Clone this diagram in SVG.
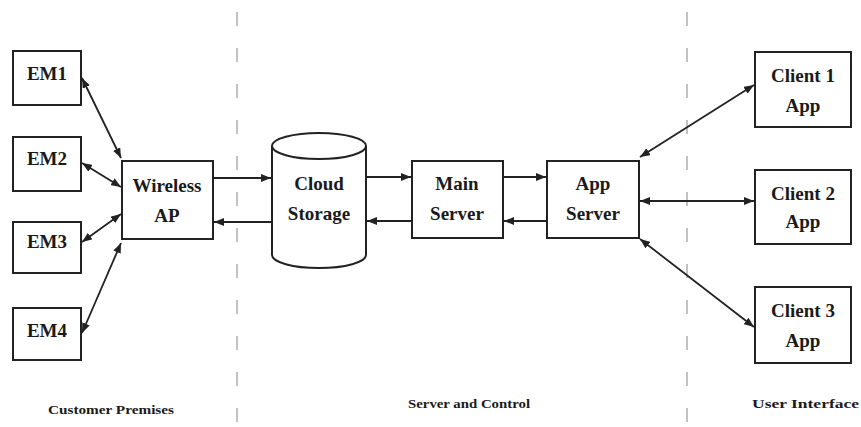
<svg xmlns="http://www.w3.org/2000/svg" width="861" height="427" viewBox="0 0 861 427">
<style>
.box{fill:#fff;stroke:#222;stroke-width:2}
.lbl{fill:#1a1a1a;text-anchor:middle}
.c{stroke:#222;stroke-width:1.8;fill:none;marker-end:url(#ah)}
.b{marker-start:url(#as)}
.d{stroke:#999;stroke-width:1.2;stroke-dasharray:14 22}
</style>
<defs>
<marker id="ah" viewBox="0 0 10 8" refX="10" refY="4" markerWidth="10" markerHeight="8" markerUnits="userSpaceOnUse" orient="auto"><path d="M0,0L10,4L0,8z" fill="#222"/></marker>
<marker id="as" viewBox="0 0 10 8" refX="0" refY="4" markerWidth="10" markerHeight="8" markerUnits="userSpaceOnUse" orient="auto"><path d="M10,0L0,4L10,8z" fill="#222"/></marker>
</defs>
<rect width="861" height="427" fill="#fff"/>
<g id="dividers">
<line class="d" x1="237" y1="12" x2="237" y2="427"/>
<line class="d" x1="687" y1="12" x2="687" y2="427"/>
</g>
<g id="connectors">
<line class="c b" x1="82" y1="78" x2="121" y2="158"/>
<line class="c b" x1="82" y1="163" x2="121" y2="187"/>
<line class="c b" x1="82" y1="242" x2="121" y2="214"/>
<line class="c b" x1="82" y1="333" x2="121" y2="243"/>
<line class="c" x1="213" y1="178" x2="271" y2="178"/>
<line class="c" x1="271" y1="222" x2="214" y2="222"/>
<line class="c" x1="366" y1="177" x2="411" y2="177"/>
<line class="c" x1="411" y1="221" x2="367" y2="221"/>
<line class="c" x1="503" y1="177" x2="546" y2="177"/>
<line class="c" x1="546" y1="221" x2="504" y2="221"/>
<line class="c b" x1="640" y1="157" x2="754" y2="85"/>
<line class="c b" x1="640" y1="201" x2="754" y2="201"/>
<line class="c b" x1="640" y1="239" x2="754" y2="327"/>
</g>
<g font-family="Liberation Serif" font-weight="bold" font-size="19">
<g id="em1"><rect class="box" x="13" y="51" width="68" height="54"/><text class="lbl" x="47" y="80">EM1</text></g>
<g id="em2"><rect class="box" x="13" y="137" width="68" height="54"/><text class="lbl" x="47" y="165">EM2</text></g>
<g id="em3"><rect class="box" x="13" y="222" width="68" height="51"/><text class="lbl" x="47" y="248">EM3</text></g>
<g id="em4"><rect class="box" x="13" y="308" width="68" height="52"/><text class="lbl" x="47" y="337">EM4</text></g>
<g id="wireless-ap"><rect class="box" x="122" y="161" width="91" height="78"/><text class="lbl" x="167" y="192">Wireless</text><text class="lbl" x="167" y="222">AP</text></g>
<g id="cloud-storage">
<path class="box" d="M272,146 L272,255 A47,13 0 0 0 366,255 L366,146"/>
<ellipse class="box" cx="319" cy="146" rx="47" ry="13"/>
<text class="lbl" x="319" y="190">Cloud</text><text class="lbl" x="319" y="220">Storage</text>
</g>
<g id="main-server"><rect class="box" x="412" y="161" width="91" height="77"/><text class="lbl" x="457" y="190">Main</text><text class="lbl" x="457" y="220">Server</text></g>
<g id="app-server"><rect class="box" x="547" y="161" width="92" height="77"/><text class="lbl" x="593" y="190">App</text><text class="lbl" x="593" y="220">Server</text></g>
<g id="client1"><rect class="box" x="755" y="52" width="96" height="75"/><text class="lbl" x="803" y="82">Client 1</text><text class="lbl" x="803" y="112">App</text></g>
<g id="client2"><rect class="box" x="755" y="170" width="96" height="74"/><text class="lbl" x="803" y="200">Client 2</text><text class="lbl" x="803" y="228">App</text></g>
<g id="client3"><rect class="box" x="755" y="287" width="96" height="76"/><text class="lbl" x="803" y="317">Client 3</text><text class="lbl" x="803" y="347">App</text></g>
</g>
<g id="labels" font-family="Liberation Serif" font-weight="bold" font-size="12" fill="#1a1a1a">
<text x="48" y="414" textLength="126" lengthAdjust="spacingAndGlyphs">Customer Premises</text>
<text x="408" y="408" textLength="122" lengthAdjust="spacingAndGlyphs">Server and Control</text>
<text x="752" y="408" textLength="107" lengthAdjust="spacingAndGlyphs">User Interface</text>
</g>
</svg>
